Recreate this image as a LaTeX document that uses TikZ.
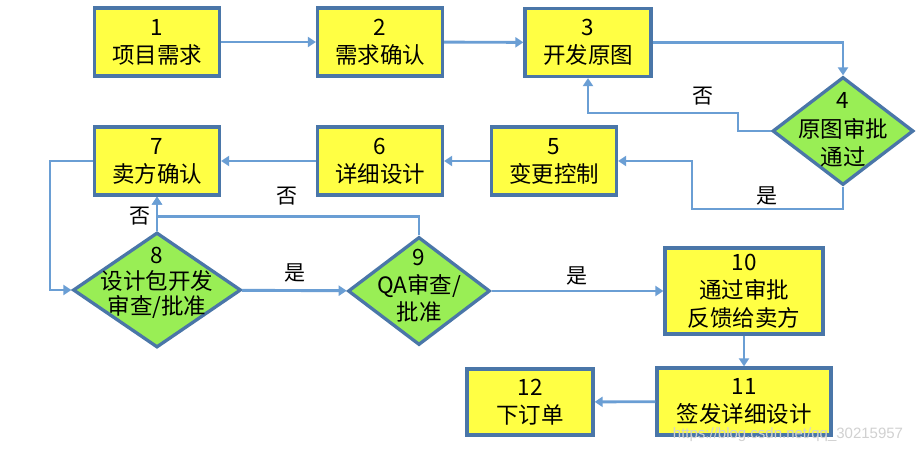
\documentclass[tikz,border=0pt]{standalone}
\usepackage{fontspec}
\setmainfont{Noto Sans CJK SC}
\newfontfamily\wmfont{Liberation Sans}
\usetikzlibrary{shapes.geometric,arrows.meta,calc}
\definecolor{boxline}{HTML}{4A76A8}
\definecolor{arrowc}{HTML}{6A9ED4}
\definecolor{yel}{HTML}{FFFF44}
\definecolor{grn}{HTML}{99EE55}
\tikzset{
  box/.style={draw=boxline, line width=3.3pt, fill=yel, minimum width=125pt, minimum height=68pt,
    align=center, inner sep=0pt, font=\fontsize{22.5}{28}\selectfont},
  dia/.style={diamond, draw=boxline, line width=3.3pt, fill=grn, inner sep=0pt},
  lbl/.style={align=center, inner sep=0pt, font=\fontsize{22.5}{27}\selectfont},
  elbl/.style={inner sep=0pt, font=\fontsize{21}{24}\selectfont},
  arr/.style={draw=arrowc, line width=2.9pt, -{Triangle[width=10pt,length=8pt]}}
}
\begin{document}
\begin{tikzpicture}[x=1pt,y=-1pt]
\useasboundingbox[fill=white] (0,0) rectangle (920,454);
\node[box] (n1) at (157,42) {1\\项目需求};
\node[box] (n2) at (380,42) {2\\需求确认};
\node[box, minimum width=126pt] (n3) at (588,42.5) {3\\开发原图};
\node[dia, minimum width=141pt, minimum height=108pt] (n4) at (843,131) {};
\node[lbl, font=\fontsize{22.5}{28.5}\selectfont] (t4) at (843,130) {4\\原图审批\\通过};
\node[box] (n5) at (554,161) {5\\变更控制};
\node[box] (n6) at (380,161) {6\\详细设计};
\node[box] (n7) at (157,161) {7\\卖方确认};
\node[dia, minimum width=168pt, minimum height=115pt] (n8) at (157,290) {};
\node[lbl, font=\fontsize{22.5}{25.5}\selectfont] (t8) at (157,283) {8\\设计包开发\\审查/批准};
\node[dia, minimum width=142pt, minimum height=108pt] (n9) at (419,291) {};
\node[lbl, font=\fontsize{22.5}{27.5}\selectfont] (t9) at (419,286) {9\\QA审查/\\批准};
\node[box, minimum width=158pt, minimum height=86pt] (n10) at (744,291) {10\\通过审批\\反馈给卖方};
\node[box, minimum width=174pt, minimum height=67pt] (n11) at (744,401.5) {11\\签发详细设计};
\node[box, minimum width=126pt, minimum height=66pt] (n12) at (530,402) {12\\下订单};

\draw[arr] (n1) -- (n2);
\draw[arr] (n2) -- (n3);
\draw[arr] (n3.east) -| (n4.north);
\draw[arr] (n4.west) -- (738,131) -- (738,113) -| (n3.south);
\node[elbl] (l1) at (703,96) {否};
\draw[arr] (n4.south) -- (843,209) -- (692,209) |- (n5.east);
\node[elbl] (l2) at (767,196) {是};
\draw[arr] (n5) -- (n6);
\draw[arr] (n6) -- (n7);
\draw[arr] (n7.west) -- (50,161) |- (n8.west);
\draw[arr] (n8) -- (n9);
\node[elbl] (l3) at (295,273) {是};
\draw[arr] (n9.north) |- ($(n7.south)+(0,20)$) -- (n7.south);
\draw[arr] (n8.north) -- (n7.south);
\node[elbl] (l4) at (140,216) {否};
\node[elbl] (l5) at (287,196) {否};
\draw[arr] (n9) -- (n10);
\node[elbl] (l6) at (577,276) {是};
\draw[arr] (n10) -- (n11);
\draw[arr] (n11) -- (n12);
\node[inner sep=0pt, text=black!18, font=\wmfont\fontsize{15}{17}\selectfont] (wm) at (788,435) {https://blog.csdn.net/qq\_30215957};
\end{tikzpicture}
\end{document}
